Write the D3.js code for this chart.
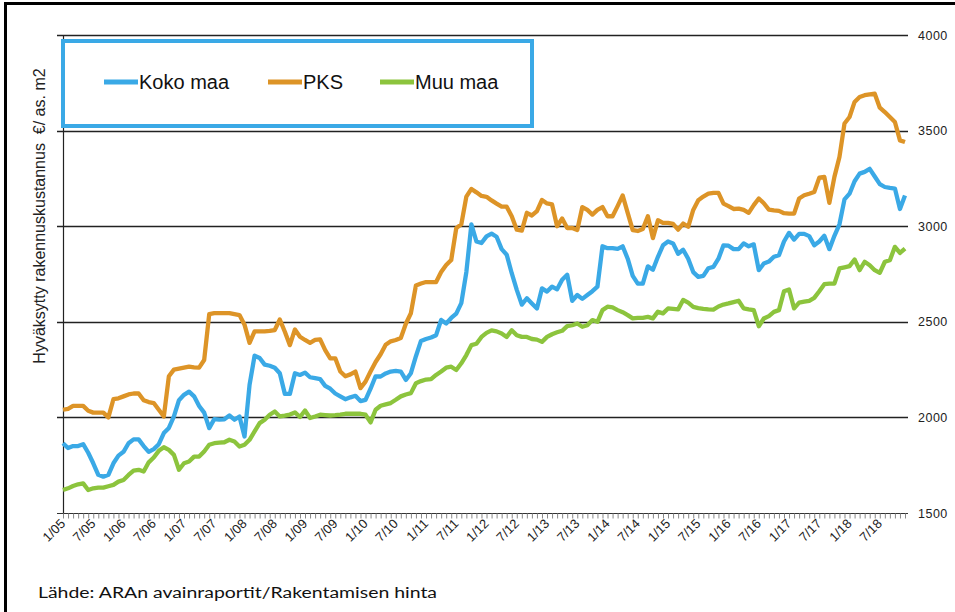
<!DOCTYPE html>
<html>
<head>
<meta charset="utf-8">
<script src="https://cdn.jsdelivr.net/npm/d3@7"></script>
<style>
  body { margin: 0; background: #fff; }
  svg { display: block; font-family: Arial, "Liberation Sans", sans-serif; }
</style>
</head>
<body>
<div id="chart"></div>
<script>
// monthly values 1/2005 .. 12/2018, one row per year
var kokoMaa = [
  1865,1840,1850,1850,1860,1815,1760,1700,1690,1700,1760,1800,
  1820,1865,1885,1885,1850,1820,1834,1860,1918,1945,2005,2090,
  2118,2135,2110,2060,2025,1944,1991,1988,1990,2010,1988,2005,
  1900,2170,2323,2311,2276,2270,2260,2231,2123,2123,2231,2222,
  2234,2210,2205,2200,2165,2150,2125,2110,2095,2105,2113,2085,
  2092,2150,2215,2214,2230,2240,2243,2240,2196,2231,2320,2400,
  2410,2418,2430,2510,2491,2520,2543,2598,2760,3010,2920,2912,
  2947,2961,2945,2880,2851,2754,2667,2590,2623,2596,2570,2675,
  2658,2684,2670,2720,2746,2610,2640,2620,2640,2660,2684,2895,
  2885,2885,2881,2895,2830,2740,2700,2700,2790,2772,2840,2900,
  2920,2910,2856,2877,2830,2760,2735,2740,2780,2787,2830,2900,
  2898,2880,2880,2910,2895,2905,2770,2805,2815,2840,2848,2920,
  2965,2930,2960,2960,2948,2900,2920,2950,2880,2950,3010,3140,
  3170,3235,3275,3284,3300,3260,3220,3205,3200,3197,3090,3160
];
var pks = [
  2040,2045,2060,2060,2060,2035,2025,2025,2025,2000,2095,2100,
  2110,2120,2125,2125,2090,2080,2075,2040,2005,2215,2250,2255,
  2260,2265,2262,2260,2300,2540,2545,2545,2545,2545,2540,2535,
  2485,2390,2450,2450,2450,2452,2457,2512,2448,2378,2460,2422,
  2405,2390,2405,2408,2352,2309,2309,2240,2215,2225,2240,2153,
  2187,2240,2290,2330,2380,2398,2405,2415,2490,2545,2690,2700,
  2708,2708,2708,2760,2797,2823,2990,3010,3155,3195,3177,3158,
  3154,3135,3118,3102,3102,3052,2982,2977,3070,3056,3079,3137,
  3119,3114,3000,3040,2990,2991,2980,3100,3085,3061,3085,3100,
  3052,3052,3105,3161,3070,2979,2975,2985,3052,2938,3031,3017,
  3017,3012,2982,3014,2997,3085,3136,3155,3170,3174,3174,3118,
  3105,3090,3092,3085,3070,3110,3145,3120,3087,3083,3080,3068,
  3066,3066,3145,3162,3170,3179,3254,3258,3122,3258,3362,3537,
  3571,3650,3676,3685,3690,3693,3620,3597,3571,3545,3449,3440
];
var muuMaa = [
  1620,1629,1641,1650,1655,1620,1629,1633,1633,1640,1647,1664,
  1673,1699,1722,1726,1717,1765,1790,1825,1844,1830,1804,1726,
  1760,1769,1795,1795,1822,1857,1865,1868,1870,1883,1874,1848,
  1857,1883,1927,1970,1988,2014,2031,2005,2009,2015,2026,2002,
  2036,1997,2005,2014,2012,2010,2012,2015,2019,2019,2019,2019,
  2014,1974,2040,2061,2068,2075,2092,2110,2120,2127,2179,2190,
  2198,2200,2222,2240,2260,2265,2248,2283,2326,2378,2385,2421,
  2442,2455,2450,2439,2421,2456,2430,2421,2421,2410,2407,2395,
  2421,2435,2445,2453,2477,2482,2491,2474,2482,2509,2500,2561,
  2579,2575,2561,2550,2535,2518,2521,2521,2526,2518,2553,2544,
  2570,2568,2565,2614,2600,2578,2572,2568,2565,2564,2580,2590,
  2596,2603,2610,2570,2565,2561,2477,2517,2530,2552,2561,2660,
  2669,2570,2600,2605,2610,2625,2660,2697,2700,2700,2779,2785,
  2791,2826,2770,2814,2796,2770,2756,2814,2822,2892,2860,2883
];
var years = d3.range(5, 19);
var months = [];
years.forEach(function(y) {
  d3.range(1, 13).forEach(function(m) { months.push(m + "/" + (y < 10 ? "0" + y : y)); });
});
var tickLabels = months.filter(function(d, i) { return i % 6 === 0; });
var yTicks = [1500, 2000, 2500, 3000, 3500, 4000];
var seriesNames = ["Koko maa", "PKS", "Muu maa"];
var colors = ["#3aa9e6", "#dd9427", "#8cc43d"];

var W = 955, H = 612;
var margin = {top: 35, right: 50, bottom: 99, left: 63};

var svg = d3.select("#chart").append("svg")
  .attr("width", W)
  .attr("height", H);

// frame
svg.append("rect")
  .attr("x", 5.5).attr("y", 3.5)
  .attr("width", W + 10).attr("height", H + 10)
  .attr("fill", "none")
  .attr("stroke", "#000")
  .attr("stroke-width", 3);

var x = d3.scalePoint()
  .domain(months)
  .range([margin.left, 905]);

var y = d3.scaleLinear()
  .domain([1500, 4000])
  .range([H - margin.bottom, margin.top]);

// horizontal gridlines
svg.append("g")
  .selectAll("line")
  .data(yTicks.slice(1))
  .join("line")
    .attr("x1", margin.left - 6)
    .attr("x2", 908)
    .attr("y1", function(d) { return Math.round(y(d)) + 0.5; })
    .attr("y2", function(d) { return Math.round(y(d)) + 0.5; })
    .attr("stroke", "#222")
    .attr("stroke-width", 1.5);

// right labels
svg.append("g")
  .selectAll("text")
  .data(yTicks)
  .join("text")
    .attr("x", 918)
    .attr("y", function(d) { return y(d) + 4.5; })
    .attr("font-size", 12.5)
    .attr("fill", "#222")
    .attr("letter-spacing", 0.5)
    .text(function(d) { return d; });

// x axis
var xAxis = d3.axisBottom(x)
  .tickValues(months)
  .tickSize(5)
  .tickFormat("");
var gx = svg.append("g")
  .attr("transform", "translate(0," + (Math.round(y(1500)) + 0.5) + ")")
  .call(xAxis);
gx.select(".domain").attr("stroke", "#333").attr("d", "M" + (margin.left - 6) + ",0H908");
gx.selectAll(".tick line").attr("stroke", "#888");

gx.selectAll(".lbl")
  .data(tickLabels)
  .join("text")
    .attr("class", "lbl")
    .attr("transform", function(d) { return "translate(" + (x(d) + 3) + ",11) rotate(-45)"; })
    .attr("text-anchor", "end")
    .attr("font-size", 13)
    .attr("fill", "#222")
    .text(function(d) { return d; });

// left axis line
svg.append("line")
  .attr("x1", margin.left + 0.5).attr("x2", margin.left + 0.5)
  .attr("y1", y(4000)).attr("y2", y(1500))
  .attr("stroke", "#222")
  .attr("stroke-width", 1.2);

// lines
var line = d3.line()
  .x(function(d, i) { return x(months[i]); })
  .y(function(d) { return y(d); });

[kokoMaa, pks, muuMaa].forEach(function(s, k) {
  svg.append("path")
    .attr("d", line(s))
    .attr("fill", "none")
    .attr("stroke", colors[k])
    .attr("stroke-width", 4.3)
    .attr("stroke-linejoin", "round");
});

// legend
svg.append("rect")
  .attr("x", 63).attr("y", 41)
  .attr("width", 469).attr("height", 85)
  .attr("fill", "#fff")
  .attr("stroke", "#3aa9e6")
  .attr("stroke-width", 4);

var legX = [104, 268, 380];
seriesNames.forEach(function(n, k) {
  svg.append("line")
    .attr("x1", legX[k]).attr("x2", legX[k] + 34)
    .attr("y1", 82).attr("y2", 82)
    .attr("stroke", colors[k])
    .attr("stroke-width", 5);
  svg.append("text")
    .attr("x", legX[k] + 35)
    .attr("y", 89)
    .attr("font-size", 20)
    .attr("fill", "#111")
    .text(n);
});

// y title
svg.append("text")
  .attr("transform", "translate(45,216) rotate(-90)")
  .attr("text-anchor", "middle")
  .attr("font-size", 16)
  .attr("fill", "#222")
  .style("white-space", "pre")
  .text("Hyväksytty rakennuskustannus  €/ as. m2");

// source
svg.append("text")
  .attr("x", 38)
  .attr("y", 598)
  .attr("font-family", "Lato, 'Open Sans', Arial")
  .attr("font-size", 15.5)
  .attr("textLength", 399)
  .attr("lengthAdjust", "spacingAndGlyphs")
  .attr("fill", "#111")
  .text("Lähde: ARAn avainraportit/Rakentamisen hinta");
</script>
</body>
</html>
